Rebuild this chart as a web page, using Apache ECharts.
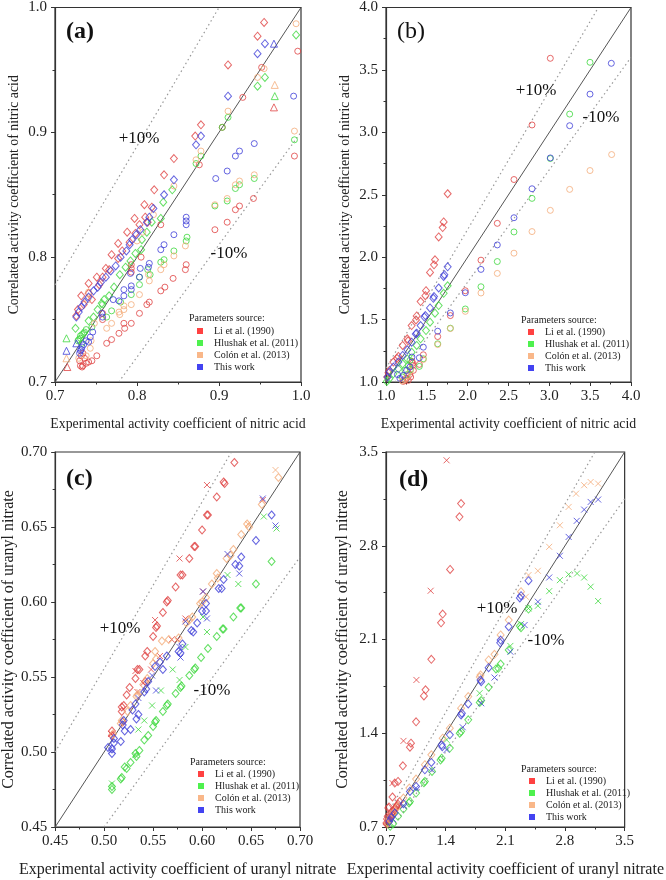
<!DOCTYPE html>
<html><head><meta charset="utf-8">
<script src="https://cdn.jsdelivr.net/npm/echarts@6/dist/echarts.min.js"></script>
<style>html,body{margin:0;padding:0;background:#fff}#c{width:666px;height:880px}</style>
</head><body><div id="c"></div>
<script>
// ---------- Panel (a): nitric acid, low range ----------
const A_li_diamond=[[0.955,0.988],[0.947,0.977],[0.911,0.954],[0.878,0.906],[0.871,0.897],[0.845,0.879],[0.833,0.866],[0.821,0.854],[0.809,0.842],[0.818,0.840],[0.797,0.831],[0.810,0.832],[0.813,0.828],[0.788,0.820],[0.798,0.819],[0.777,0.811],[0.791,0.812],[0.769,0.802],[0.777,0.799],[0.762,0.791],[0.766,0.790],[0.751,0.784],[0.741,0.779],[0.754,0.778],[0.741,0.771],[0.732,0.769],[0.728,0.758],[0.726,0.753],[0.735,0.762],[0.745,0.766],[0.758,0.784],[0.782,0.805],[0.803,0.826]];
const A_li_circle=[[0.996,0.965],[0.952,0.952],[0.929,0.928],[0.904,0.904],[0.876,0.874],[0.992,0.881],[0.942,0.847],[0.925,0.841],[0.920,0.838],[0.910,0.828],[0.895,0.822],[0.829,0.826],[0.860,0.794],[0.859,0.790],[0.844,0.783],[0.834,0.776],[0.829,0.773],[0.815,0.764],[0.812,0.762],[0.803,0.755],[0.793,0.747],[0.784,0.747],[0.785,0.743],[0.778,0.739],[0.769,0.734],[0.763,0.731],[0.793,0.794],[0.793,0.791],[0.793,0.788],[0.805,0.800],[0.758,0.755],[0.758,0.750],[0.751,0.721],[0.745,0.717],[0.741,0.716],[0.738,0.715],[0.734,0.713],[0.731,0.713],[0.733,0.712],[0.730,0.717],[0.732,0.721],[0.734,0.723],[0.736,0.719]];
const A_li_tri=[[0.967,0.920],[0.715,0.712]];
const A_hl_diamond=[[0.994,0.978],[0.956,0.944],[0.947,0.937],[0.843,0.854],[0.832,0.844],[0.829,0.831],[0.818,0.828],[0.806,0.814],[0.805,0.806],[0.792,0.797],[0.786,0.792],[0.772,0.776],[0.766,0.769],[0.757,0.763],[0.747,0.752],[0.741,0.749],[0.725,0.743],[0.779,0.786],[0.812,0.820],[0.798,0.803],[0.760,0.766],[0.752,0.758]];
const A_hl_circle=[[0.911,0.912],[0.904,0.904],[0.992,0.894],[0.878,0.881],[0.872,0.875],[0.943,0.863],[0.925,0.858],[0.920,0.855],[0.910,0.845],[0.895,0.841],[0.861,0.816],[0.860,0.813],[0.845,0.805],[0.833,0.798],[0.829,0.796],[0.816,0.786],[0.803,0.778],[0.793,0.770],[0.780,0.764],[0.769,0.757],[0.763,0.752],[0.731,0.737],[0.731,0.735],[0.735,0.739],[0.728,0.733],[0.733,0.731],[0.758,0.762],[0.813,0.790],[0.803,0.784],[0.729,0.734],[0.733,0.738],[0.736,0.740],[0.738,0.742],[0.745,0.744]];
const A_hl_tri=[[0.968,0.929],[0.714,0.735]];
const A_co_circle=[[0.994,0.987],[0.955,0.951],[0.947,0.944],[0.911,0.917],[0.992,0.901],[0.878,0.885],[0.872,0.878],[0.943,0.866],[0.925,0.861],[0.920,0.858],[0.910,0.847],[0.895,0.842],[0.859,0.809],[0.845,0.801],[0.833,0.794],[0.829,0.790],[0.815,0.781],[0.803,0.770],[0.793,0.762],[0.784,0.761],[0.784,0.758],[0.778,0.756],[0.769,0.747],[0.763,0.743],[0.748,0.747],[0.744,0.733],[0.743,0.727],[0.738,0.721],[0.729,0.719],[0.845,0.857],[0.820,0.834],[0.807,0.820],[0.800,0.813],[0.741,0.772],[0.740,0.766],[0.779,0.754],[0.814,0.786]];
const A_co_tri=[[0.968,0.938],[0.714,0.719]];
const A_tw_diamond=[[0.956,0.971],[0.947,0.963],[0.911,0.929],[0.878,0.897],[0.872,0.890],[0.845,0.862],[0.833,0.850],[0.820,0.839],[0.815,0.832],[0.812,0.828],[0.804,0.822],[0.799,0.818],[0.794,0.814],[0.791,0.810],[0.787,0.805],[0.780,0.800],[0.774,0.793],[0.768,0.789],[0.762,0.784],[0.756,0.780],[0.752,0.776],[0.747,0.773],[0.741,0.768],[0.736,0.764],[0.732,0.760],[0.729,0.756],[0.726,0.752]];
const A_tw_circle=[[0.991,0.929],[0.943,0.891],[0.925,0.885],[0.920,0.881],[0.910,0.869],[0.896,0.863],[0.860,0.832],[0.860,0.829],[0.860,0.826],[0.845,0.818],[0.833,0.810],[0.829,0.806],[0.815,0.795],[0.814,0.792],[0.803,0.784],[0.793,0.777],[0.793,0.774],[0.784,0.774],[0.784,0.769],[0.778,0.765],[0.771,0.766],[0.804,0.791],[0.792,0.787],[0.757,0.755],[0.758,0.752],[0.743,0.736],[0.741,0.732],[0.733,0.728],[0.731,0.725],[0.730,0.723],[0.732,0.726],[0.735,0.730],[0.738,0.733],[0.746,0.740]];
const A_tw_tri=[[0.967,0.971],[0.714,0.725],[0.726,0.731]];

// ---------- Panel (b): nitric acid, full range ----------
const B_li_circle=[[3.012,3.593],[2.788,3.059],[2.567,2.622],[2.363,2.271],[2.163,1.976],[1.971,1.731],[1.788,1.532],[1.633,1.364],[1.457,1.218],[1.408,1.141],[1.335,1.093],[1.327,1.133],[1.302,1.040],[1.273,1.013],[1.233,1.013],[1.212,1.005],[1.318,1.165],[1.325,1.150],[1.290,1.060],[1.250,1.030]];
const B_li_diamond=[[1.755,2.508],[1.706,2.282],[1.694,2.237],[1.645,2.162],[1.600,1.979],[1.588,1.939],[1.539,1.878],[1.490,1.731],[1.482,1.691],[1.424,1.644],[1.376,1.529],[1.367,1.497],[1.314,1.452],[1.261,1.346],[1.270,1.330],[1.204,1.293],[1.151,1.205],[1.135,1.190],[1.090,1.160],[1.041,1.093],[1.030,1.075],[1.015,1.040]];
const B_hl_circle=[[3.498,3.561],[3.249,3.146],[3.012,2.790],[2.788,2.471],[2.567,2.202],[2.363,1.965],[2.163,1.763],[1.971,1.585],[1.788,1.431],[1.633,1.306],[1.457,1.186],[1.408,1.125],[1.294,1.173],[1.275,1.130],[1.233,1.093],[1.260,1.060],[1.200,1.040],[1.300,1.100]];
const B_hl_diamond=[[1.755,1.771],[1.706,1.710],[1.645,1.612],[1.600,1.551],[1.539,1.479],[1.490,1.412],[1.424,1.346],[1.376,1.293],[1.314,1.239],[1.261,1.186],[1.204,1.146],[1.151,1.106],[1.090,1.066],[1.041,1.027],[1.010,1.005]];
const B_co_circle=[[3.763,2.822],[3.498,2.694],[3.249,2.543],[3.012,2.375],[2.788,2.205],[2.567,2.032],[2.363,1.870],[2.163,1.713],[1.971,1.566],[1.788,1.428],[1.633,1.300],[1.457,1.180],[1.300,1.090],[1.260,1.050],[1.230,1.020],[1.200,1.008]];
const B_tw_circle=[[3.759,3.553],[3.498,3.306],[3.249,3.053],[3.012,2.795],[2.788,2.548],[2.567,2.316],[2.363,2.098],[2.163,1.902],[1.971,1.715],[1.788,1.553],[1.633,1.407],[1.457,1.279],[1.408,1.194],[1.294,1.120],[1.253,1.093],[1.212,1.053],[1.318,1.200],[1.170,1.030],[1.140,1.060]];
const B_tw_diamond=[[1.755,1.923],[1.706,1.846],[1.715,1.860],[1.645,1.753],[1.588,1.684],[1.580,1.670],[1.539,1.593],[1.482,1.532],[1.470,1.520],[1.424,1.452],[1.376,1.391],[1.365,1.385],[1.314,1.319],[1.261,1.258],[1.204,1.213],[1.151,1.160],[1.090,1.120],[1.041,1.080],[1.020,1.040]];

// ---------- Panel (c): uranyl nitrate, low range ----------
const C_li_diamond=[[0.633,0.693],[0.622,0.680],[0.623,0.679],[0.615,0.670],[0.605,0.658],[0.606,0.658],[0.600,0.648],[0.592,0.637],[0.593,0.637],[0.587,0.629],[0.578,0.618],[0.580,0.618],[0.573,0.610],[0.564,0.600],[0.565,0.601],[0.560,0.593],[0.554,0.584],[0.553,0.583],[0.550,0.577],[0.544,0.567],[0.542,0.564],[0.534,0.555],[0.536,0.555],[0.526,0.543],[0.523,0.538],[0.518,0.530],[0.518,0.527],[0.520,0.531],[0.508,0.511],[0.508,0.514],[0.519,0.520],[0.532,0.549],[0.542,0.547]];
const C_li_cross=[[0.605,0.678],[0.577,0.629],[0.552,0.588],[0.583,0.589],[0.601,0.607],[0.662,0.668],[0.569,0.575],[0.575,0.575],[0.557,0.564],[0.548,0.555],[0.540,0.546],[0.534,0.540],[0.507,0.512],[0.532,0.554]];
const C_hl_diamond=[[0.671,0.627],[0.655,0.612],[0.639,0.596],[0.640,0.596],[0.632,0.590],[0.621,0.582],[0.622,0.582],[0.615,0.577],[0.606,0.569],[0.599,0.563],[0.592,0.555],[0.593,0.556],[0.587,0.551],[0.579,0.544],[0.578,0.543],[0.573,0.539],[0.564,0.531],[0.565,0.532],[0.560,0.527],[0.553,0.521],[0.552,0.520],[0.550,0.517],[0.545,0.511],[0.541,0.508],[0.536,0.501],[0.532,0.499],[0.533,0.497],[0.527,0.493],[0.523,0.489],[0.521,0.490],[0.517,0.482],[0.518,0.483],[0.508,0.475],[0.508,0.477]];
const C_hl_cross=[[0.676,0.649],[0.663,0.657],[0.637,0.612],[0.626,0.618],[0.605,0.580],[0.601,0.590],[0.583,0.570],[0.570,0.555],[0.577,0.548],[0.558,0.541],[0.549,0.531],[0.541,0.521],[0.535,0.515],[0.508,0.479],[0.532,0.498]];
const C_co_diamond=[[0.678,0.683],[0.661,0.665],[0.646,0.652],[0.648,0.650],[0.640,0.645],[0.632,0.635],[0.625,0.629],[0.629,0.631],[0.615,0.619],[0.616,0.616],[0.610,0.612],[0.604,0.603],[0.598,0.599],[0.600,0.600],[0.590,0.590],[0.584,0.586],[0.587,0.588],[0.576,0.576],[0.566,0.575],[0.559,0.574],[0.552,0.567],[0.550,0.559],[0.553,0.562],[0.544,0.549],[0.540,0.545],[0.534,0.538],[0.527,0.531],[0.524,0.527],[0.518,0.521],[0.517,0.519],[0.509,0.512],[0.533,0.537]];
const C_co_cross=[[0.675,0.688],[0.647,0.652],[0.536,0.540]];
const C_tw_diamond=[[0.671,0.658],[0.655,0.641],[0.640,0.630],[0.634,0.625],[0.638,0.624],[0.622,0.615],[0.617,0.609],[0.620,0.609],[0.604,0.599],[0.604,0.594],[0.600,0.594],[0.595,0.586],[0.589,0.581],[0.591,0.580],[0.580,0.572],[0.576,0.567],[0.578,0.566],[0.564,0.564],[0.557,0.560],[0.560,0.555],[0.552,0.557],[0.545,0.547],[0.541,0.540],[0.543,0.542],[0.532,0.532],[0.529,0.528],[0.520,0.521],[0.519,0.518],[0.510,0.509],[0.510,0.506],[0.517,0.507],[0.521,0.514],[0.527,0.515],[0.533,0.522],[0.535,0.525],[0.508,0.502],[0.508,0.499],[0.504,0.503]];
const C_tw_cross=[[0.662,0.669],[0.675,0.651],[0.638,0.619],[0.626,0.632],[0.605,0.589],[0.601,0.607],[0.577,0.570],[0.578,0.563],[0.553,0.541],[0.535,0.536],[0.508,0.501],[0.549,0.551],[0.583,0.587]];

// ---------- Panel (d): uranyl nitrate, full range ----------
const D_li_cross=[[1.411,3.438],[1.224,2.464],[1.057,1.798],[0.905,1.343],[0.776,1.028],[0.740,0.780],[0.760,0.800]];
const D_li_diamond=[[1.581,3.115],[1.562,3.016],[1.452,2.623],[1.365,2.290],[1.346,2.225],[1.232,1.952],[1.164,1.724],[1.145,1.679],[1.053,1.485],[0.993,1.326],[0.981,1.296],[0.898,1.157],[0.841,1.040],[0.803,1.028],[0.776,0.924],[0.727,0.842],[0.735,0.850],[0.712,0.760],[0.720,0.780],[0.705,0.730],[0.72,0.73],[0.74,0.75],[0.76,0.78],[0.78,0.80],[0.80,0.83],[0.82,0.85],[0.84,0.87],[0.86,0.89],[0.71,0.72],[0.73,0.74],[0.75,0.77],[0.77,0.79],[0.79,0.815],[0.81,0.84],[0.83,0.86]];
const D_hl_cross=[[3.189,2.387],[3.101,2.494],[3.025,2.563],[2.942,2.593],[2.843,2.586],[2.740,2.543],[2.615,2.461],[2.482,2.352],[2.372,2.332],[2.284,2.215],[2.159,2.052],[1.798,1.699],[1.411,1.351]];
const D_hl_diamond=[[2.372,2.327],[2.284,2.188],[2.270,2.200],[2.140,2.022],[2.045,1.917],[2.018,1.885],[1.990,1.880],[1.904,1.743],[1.817,1.644],[1.800,1.630],[1.665,1.500],[1.581,1.413],[1.565,1.400],[1.449,1.289],[1.353,1.214],[1.340,1.200],[1.240,1.115],[1.156,1.040],[1.145,1.030],[1.053,0.953],[0.981,0.891],[0.970,0.880],[0.905,0.834],[0.841,0.780],[0.784,0.725],[0.750,0.705]];
const D_co_cross=[[3.189,3.264],[3.101,3.276],[3.025,3.252],[2.930,3.189],[2.843,3.090],[2.740,2.953],[2.615,2.792],[2.482,2.613],[2.341,2.419],[2.372,2.581]];
const D_co_diamond=[[2.284,2.457],[2.140,2.245],[2.045,2.134],[1.973,1.989],[1.904,1.947],[1.809,1.835],[1.800,1.820],[1.665,1.674],[1.581,1.587],[1.449,1.438],[1.365,1.363],[1.232,1.239],[1.156,1.165],[1.053,1.058],[0.974,0.991],[0.905,0.916],[0.841,0.854],[0.784,0.804],[0.740,0.760],[0.720,0.730]];
const D_tw_cross=[[3.189,3.145],[3.101,3.127],[3.025,3.070],[2.938,2.986],[2.843,2.866],[2.740,2.725],[2.615,2.563],[2.482,2.382],[2.326,2.208],[2.159,2.009],[1.973,1.816],[1.817,1.624],[1.600,1.445],[1.411,1.276],[1.240,1.127],[1.050,0.991],[0.905,0.859],[0.780,0.760]];
const D_tw_diamond=[[2.372,2.539],[2.284,2.427],[2.270,2.410],[2.140,2.196],[2.045,2.096],[2.040,2.075],[1.904,1.890],[1.809,1.798],[1.817,1.785],[1.665,1.619],[1.581,1.537],[1.590,1.550],[1.449,1.388],[1.353,1.314],[1.360,1.300],[1.232,1.182],[1.156,1.127],[1.053,1.003],[0.981,0.966],[0.905,0.874],[0.803,0.804],[0.738,0.742],[0.760,0.770]];

// ---------- axes / labels ----------
const AXIS_RANGES=[[0.7,1.0,0.1,1],[1.0,4.0,0.5,1],[0.45,0.70,0.05,2],[0.7,3.5,0.7,1]];
const X_TITLES=['Experimental activity coefficient of nitric acid','Experimental activity coefficient of nitric acid','Experimental activity coefficient of uranyl nitrate','Experimental activity coefficient of uranyl nitrate'];
const Y_TITLES=['Correlated activity coefficient of nitric acid','Correlated activity coefficient of nitric acid','Correlated activity coefficient of uranyl nitrate','Correlated activity coefficient of uranyl nitrate'];
const PANEL_LABELS=['(a)','(b)','(c)','(d)'];
const SOURCE_NAMES=['Li et al. (1990)','Hlushak et al. (2011)','Colón et al. (2013)','This work'];
const LEGEND_TITLE='Parameters source:';
const PLUS_LABEL='+10%', MINUS_LABEL='-10%';

const F="'Liberation Serif','Times New Roman',serif";
const STROKE={li:'#e04444',hl:'#3ed83e',co:'#f4ad7a',tw:'#4040d8'};
const FILL=['#ff1111','#22ee22','#f7a56b','#1414ee'];
const NAME={li:SOURCE_NAMES[0],hl:SOURCE_NAMES[1],co:SOURCE_NAMES[2],tw:SOURCE_NAMES[3]};
const SYM={circle:'circle',diamond:'diamond',tri:'triangle',cross:'path://M0,0L10,10M10,0L0,10'};
const SIZE={circle:6,diamond:[7,8],tri:7,cross:6};

const GRIDS=[
 {left:55,top:6,width:246,height:376},
 {left:386,top:6,width:245,height:376},
 {left:54,top:452,width:246,height:375},
 {left:386,top:452,width:245,height:375}
];
const TSIZE=[13.8,13.8,16,16];

function xAxis(i){const r=AXIS_RANGES[i];return{type:'value',gridIndex:i,min:r[0],max:r[1],interval:r[2],
 axisLine:{show:true,onZero:false,lineStyle:{color:'#333',width:1.2}},
 axisTick:{show:true,inside:false,length:4,lineStyle:{color:'#333',width:1}},
 minorTick:{show:true,splitNumber:2,length:2.5,lineStyle:{color:'#333',width:1}},
 splitLine:{show:false},
 axisLabel:{formatter:v=>v.toFixed(r[3]),fontSize:15,fontFamily:F,color:'#222',margin:7},
 name:X_TITLES[i],nameLocation:'middle',nameGap:i<2?35:35,nameTextStyle:{fontSize:TSIZE[i],fontFamily:F,color:'#222'}};}
function yAxis(i){const r=AXIS_RANGES[i];return{type:'value',gridIndex:i,min:r[0],max:r[1],interval:r[2],
 axisLine:{show:true,onZero:false,lineStyle:{color:'#333',width:1.2}},
 axisTick:{show:true,inside:false,length:4,lineStyle:{color:'#333',width:1}},
 minorTick:{show:true,splitNumber:2,length:2.5,lineStyle:{color:'#333',width:1}},
 splitLine:{show:false},
 axisLabel:{formatter:v=>v.toFixed(r[3]),fontSize:15,fontFamily:F,color:'#222',margin:8},
 name:Y_TITLES[i],nameLocation:'middle',nameGap:i<2?34:35,nameTextStyle:{fontSize:TSIZE[i],fontFamily:F,color:'#222'}};}

function sc(i,key,shape,data){return{type:'scatter',name:NAME[key],xAxisIndex:i,yAxisIndex:i,data:data,
 symbol:SYM[shape],symbolSize:SIZE[shape],silent:true,animation:false,
 itemStyle:{color:'rgba(0,0,0,0)',borderColor:STROKE[key],borderWidth:1},z:3};}
function refLines(i){const r=AXIS_RANGES[i],lo=r[0],hi=r[1];
 const base={type:'line',xAxisIndex:i,yAxisIndex:i,symbol:'none',silent:true,animation:false,z:2};
 return[
  Object.assign({},base,{data:[[lo,lo],[hi,hi]],lineStyle:{color:'#555',width:1}}),
  Object.assign({},base,{data:[[lo,lo/0.9],[hi*0.9,hi]],lineStyle:{color:'#999',width:1.2,type:[1.5,3]}}),
  Object.assign({},base,{data:[[lo/0.9,lo],[hi,hi*0.9]],lineStyle:{color:'#999',width:1.2,type:[1.5,3]}})
 ];}

const series=[].concat(
 refLines(0),refLines(1),refLines(2),refLines(3),
 [sc(0,'li','diamond',A_li_diamond),sc(0,'li','circle',A_li_circle),sc(0,'li','tri',A_li_tri),
  sc(0,'hl','diamond',A_hl_diamond),sc(0,'hl','circle',A_hl_circle),sc(0,'hl','tri',A_hl_tri),
  sc(0,'co','circle',A_co_circle),sc(0,'co','tri',A_co_tri),
  sc(0,'tw','diamond',A_tw_diamond),sc(0,'tw','circle',A_tw_circle),sc(0,'tw','tri',A_tw_tri),
  sc(1,'li','circle',B_li_circle),sc(1,'li','diamond',B_li_diamond),
  sc(1,'hl','circle',B_hl_circle),sc(1,'hl','diamond',B_hl_diamond),
  sc(1,'co','circle',B_co_circle),
  sc(1,'tw','circle',B_tw_circle),sc(1,'tw','diamond',B_tw_diamond),
  sc(2,'li','diamond',C_li_diamond),sc(2,'li','cross',C_li_cross),
  sc(2,'hl','diamond',C_hl_diamond),sc(2,'hl','cross',C_hl_cross),
  sc(2,'co','diamond',C_co_diamond),sc(2,'co','cross',C_co_cross),
  sc(2,'tw','diamond',C_tw_diamond),sc(2,'tw','cross',C_tw_cross),
  sc(3,'li','diamond',D_li_diamond),sc(3,'li','cross',D_li_cross),
  sc(3,'hl','diamond',D_hl_diamond),sc(3,'hl','cross',D_hl_cross),
  sc(3,'co','diamond',D_co_diamond),sc(3,'co','cross',D_co_cross),
  sc(3,'tw','diamond',D_tw_diamond),sc(3,'tw','cross',D_tw_cross)]
);

const LEG_POS=[[197,326],[528,327],[198,769],[529,776]];
const LEG_TITLE_POS=[[189,313],[521,315],[190,757],[521,764]];
const legends=LEG_POS.map(p=>({left:p[0],top:p[1],orient:'vertical',selectedMode:false,icon:'rect',
 itemWidth:6,itemHeight:6,itemGap:2,padding:0,
 textStyle:{fontSize:10,fontFamily:F,color:'#222',padding:[0,0,0,6],lineHeight:10},
 data:SOURCE_NAMES.map((n,k)=>({name:n,itemStyle:{color:FILL[k],borderWidth:0}}))}));

const PANEL_POS=[[66,20,'bold'],[397,20,'normal'],[66,467,'bold'],[399,468,'bold']];
const PM_POS=[[[139,139],[229,254]],[[536,91],[601,118]],[[120,629],[212,691]],[[497,609],[546,641]]];
const graphic=[];
PANEL_POS.forEach((p,i)=>graphic.push({type:'text',left:p[0],top:p[1],z:10,style:{text:PANEL_LABELS[i],font:p[2]+' 24px '+F,fill:'#111'}}));
PM_POS.forEach(pp=>{
 graphic.push({type:'text',x:pp[0][0],y:pp[0][1],z:10,style:{text:PLUS_LABEL,font:'17px '+F,fill:'#111',textAlign:'center',textVerticalAlign:'middle'}});
 graphic.push({type:'text',x:pp[1][0],y:pp[1][1],z:10,style:{text:MINUS_LABEL,font:'17px '+F,fill:'#111',textAlign:'center',textVerticalAlign:'middle'}});
});
LEG_TITLE_POS.forEach(p=>graphic.push({type:'text',left:p[0],top:p[1],z:10,style:{text:LEGEND_TITLE,font:'10px '+F,fill:'#222'}}));

const chart=echarts.init(document.getElementById('c'),null,{renderer:'canvas'});
chart.setOption({
 animation:false,backgroundColor:'#fff',
 grid:GRIDS.map(g=>Object.assign({show:true,borderColor:'#333',borderWidth:1.2,backgroundColor:'rgba(0,0,0,0)',containLabel:false},g)),
 xAxis:[0,1,2,3].map(xAxis),yAxis:[0,1,2,3].map(yAxis),
 legend:legends,graphic:graphic,series:series
});
</script></body></html>
